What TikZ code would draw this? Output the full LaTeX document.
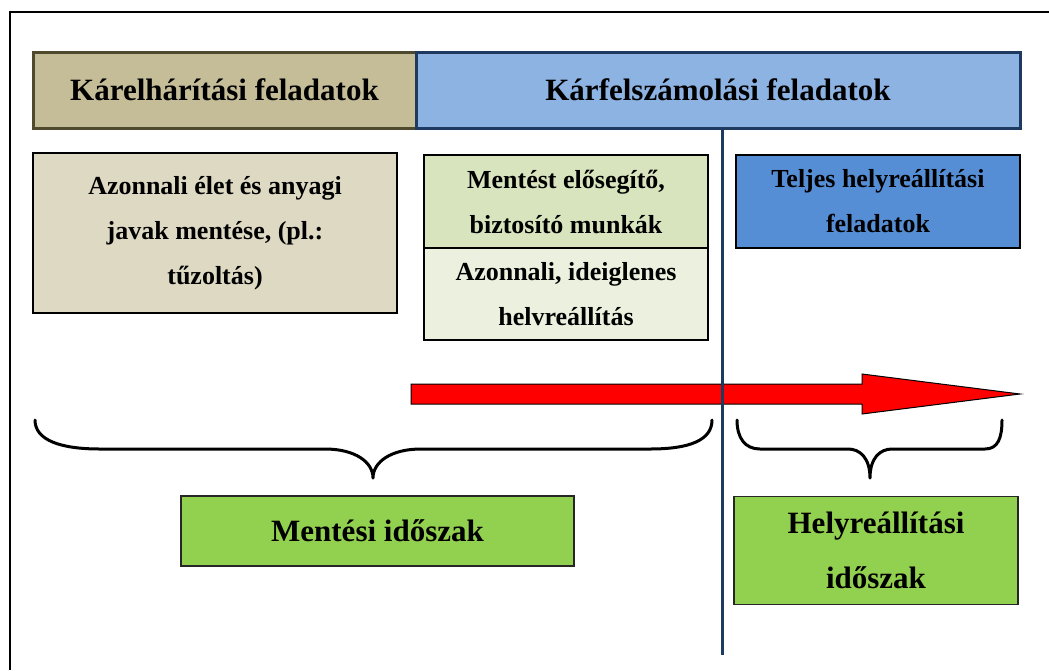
\documentclass[tikz,border=0pt]{standalone}
\usepackage{fontspec}
\setmainfont{Liberation Serif}
\definecolor{olivefill}{HTML}{C4BD97}
\definecolor{olivedraw}{HTML}{4F4A2E}
\definecolor{bluefill}{HTML}{8DB3E2}
\definecolor{navy}{HTML}{1F3A60}
\definecolor{beige}{HTML}{DDD9C3}
\definecolor{greenA}{HTML}{D7E4BD}
\definecolor{greenB}{HTML}{EBF1DE}
\definecolor{blueB}{HTML}{558ED5}
\definecolor{greenC}{HTML}{92D050}
\begin{document}
\begin{tikzpicture}[x=1pt,y=-1pt,
  hdr/.style={draw, line width=3pt, inner sep=0pt, font=\fontsize{31}{36}\selectfont\bfseries},
  tbox/.style={draw=black, line width=1.5pt, inner sep=0pt, align=center, font=\fontsize{26}{45}\selectfont\bfseries},
  pbox/.style={draw=black!85, line width=1.8pt, inner sep=0pt, align=center, font=\fontsize{31}{55}\selectfont\bfseries},
  brace/.style={line width=3pt, line cap=round, line join=round}]
\useasboundingbox (0,0) rectangle (1049,670);
% outer frame
\draw[line width=2pt] (10,670) -- (10,12) -- (1049,12);
% headers
\node[hdr, fill=olivefill, draw=olivedraw, minimum width=383, minimum height=76] (hL) at (224.5,90) {Kárelhárítási feladatok};
\node[hdr, fill=bluefill, draw=navy, minimum width=604, minimum height=76] (hR) at (718,90) {Kárfelszámolási feladatok};
% boxes
\node[tbox, fill=beige, minimum width=364, minimum height=160] (bA) at (215,233) {Azonnali élet és anyagi\\javak mentése, (pl.:\\tűzoltás)};
\node[tbox, fill=greenA, minimum width=284, minimum height=93] (g1) at (566,201.5) {Mentést elősegítő,\\biztosító munkák};
\node[tbox, fill=greenB, minimum width=284, minimum height=92] (g2) at (566,294) {Azonnali, ideiglenes\\helvreállítás};
\node[tbox, fill=blueB, minimum width=284, minimum height=93] (bB) at (878,201.5) {Teljes helyreállítási\\feladatok};
% arrow
\filldraw[fill=red, draw=black, line width=1pt, line join=miter]
  (411,384) -- (862,384) -- (862,374) -- (1020,394) -- (862,414) -- (862,404) -- (411,404) -- cycle;
% vertical line
\coordinate (vb) at (722,655);
\draw[navy, line width=3pt] (hR.south -| vb) -- (vb);
% braces
\draw[brace] (35,420) .. controls (35,440) and (60,449) .. (100,449) -- (325,449)
  .. controls (355,449) and (373,462) .. (373,478)
  .. controls (373,462) and (391,449) .. (421,449) -- (650,449)
  .. controls (690,449) and (712,440) .. (712,420);
\draw[brace] (737,420) .. controls (737,438) and (745,449) .. (760,449) -- (848,449)
  .. controls (860,449) and (870,458) .. (870,478)
  .. controls (870,458) and (880,449) .. (892,449) -- (985,449)
  .. controls (998,449) and (1002,438) .. (1002,420);
% period boxes
\node[pbox, fill=greenC, minimum width=393, minimum height=70] (pM) at (377.5,531) {Mentési időszak};
\node[pbox, fill=greenC, minimum width=284, minimum height=108] (pH) at (876,550.5) {Helyreállítási\\időszak};
\end{tikzpicture}
\end{document}
